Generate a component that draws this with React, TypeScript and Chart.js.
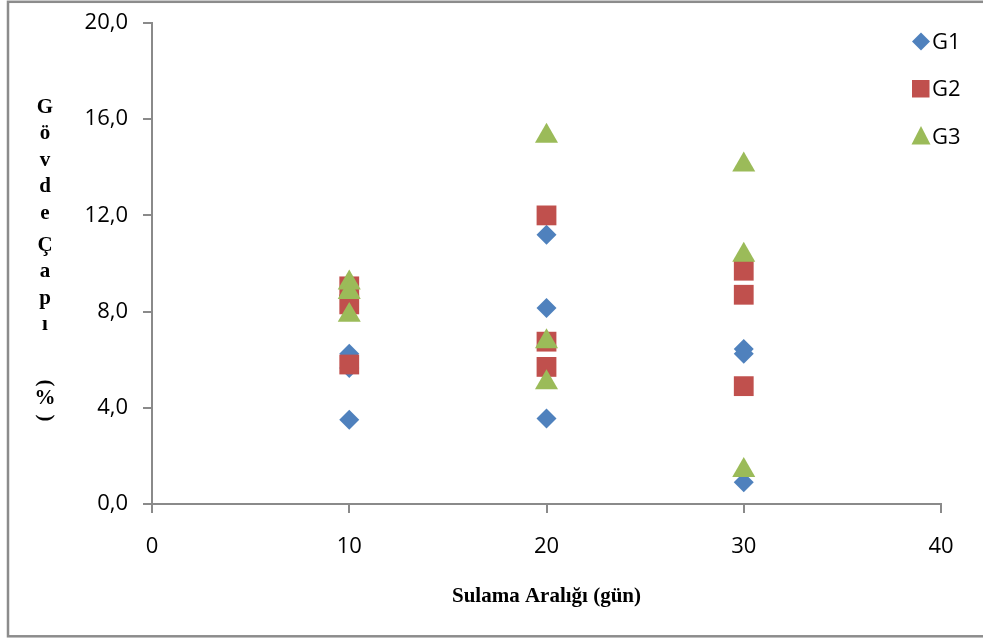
import React, { useEffect, useRef } from "react";
import { Chart, registerables } from "chart.js";

Chart.register(...registerables);

// ---- data ----
const X_VALUES = [10, 10, 10, 20, 20, 20, 30, 30, 30];
const G1_VALUES = [6.25, 5.65, 3.5, 11.2, 8.15, 3.55, 6.45, 6.25, 0.9];
const G2_VALUES = [9.05, 8.3, 5.8, 12.0, 6.75, 5.7, 9.7, 8.7, 4.9];
const G3_VALUES = [9.2, 8.8, 7.85, 15.3, 6.75, 5.05, 14.1, 10.35, 1.4];
const SERIES_NAMES = ["G1", "G2", "G3"];
const X_TICKS = [0, 10, 20, 30, 40];
const Y_TICKS = [0, 4, 8, 12, 16, 20];
const X_TITLE = "Sulama Aralığı (gün)";
const Y_TITLE = "Gövde Çapı (%)";

const COLORS = ["#4F81BD", "#C0504D", "#9BBB59"];
const STYLES = ["rectRot", "rect", "triangle"];
const RADII = [10, 14, 13.3];
const TICK_FONT = { family: "'Open Sans', sans-serif", size: 22 };
const AXIS_COLOR = "#8a8a8a";

const toPoints = (ys: number[]) => ys.map((y, i) => ({ x: X_VALUES[i], y }));

const decorPlugin = {
  id: "decor",
  beforeDraw(chart: any) {
    const ctx = chart.ctx;
    ctx.save();
    ctx.fillStyle = "#ffffff";
    ctx.fillRect(0, 0, chart.width, chart.height);
    ctx.restore();
  },
  afterDraw(chart: any) {
    const ctx = chart.ctx;
    const area = chart.chartArea;
    ctx.save();
    // outer frame
    ctx.strokeStyle = "#8c8c8c";
    ctx.lineWidth = 2.5;
    ctx.strokeRect(8, 1.8, chart.width + 20, 634.5);

    // x title
    ctx.fillStyle = "#000000";
    ctx.font = "bold 21px 'Liberation Serif', 'Times New Roman', serif";
    ctx.textAlign = "center";
    ctx.textBaseline = "middle";
    ctx.fillText(X_TITLE, (area.left + area.right) / 2, 597);

    // y title, stacked letters
    const ys = [108, 134, 161, 187, 214, 246, 272, 299, 325, 383, 399, 418];
    ctx.font = "bold 21px 'Liberation Serif', 'Times New Roman', serif";
    let k = 0;
    for (const ch of Array.from(Y_TITLE)) {
      if (ch === " ") continue;
      const y = ys[k++];
      if (ch === "(" || ch === ")") {
        ctx.save();
        ctx.translate(45, y);
        ctx.rotate(Math.PI / 2);
        ctx.fillText(ch, 0, 0);
        ctx.restore();
      } else {
        ctx.fillText(ch, 45, y);
      }
    }

    // legend
    const legendY = [41.5, 89, 137];
    ctx.font = `${TICK_FONT.size}px ${TICK_FONT.family}`;
    ctx.textAlign = "left";
    ctx.textBaseline = "middle";
    SERIES_NAMES.forEach((name, i) => {
      const cx = 921;
      const cy = legendY[i];
      ctx.fillStyle = COLORS[i];
      ctx.beginPath();
      if (i === 0) {
        ctx.moveTo(cx - 9, cy);
        ctx.lineTo(cx, cy - 9);
        ctx.lineTo(cx + 9, cy);
        ctx.lineTo(cx, cy + 9);
      } else if (i === 1) {
        ctx.rect(cx - 9, cy - 9, 17.5, 17.5);
      } else {
        ctx.moveTo(cx, cy - 11);
        ctx.lineTo(cx + 9.5, cy + 7.5);
        ctx.lineTo(cx - 9.5, cy + 7.5);
      }
      ctx.closePath();
      ctx.fill();
      ctx.fillStyle = "#000000";
      ctx.fillText(name, 932, cy + 1);
    });
    ctx.restore();
  },
};

const zeroPadding = (scale: any) => {
  scale.paddingTop = 0;
  scale.paddingBottom = 0;
  scale.paddingLeft = 0;
  scale.paddingRight = 0;
};

export default function App() {
  const canvasRef = useRef<HTMLCanvasElement | null>(null);

  useEffect(() => {
    if (!canvasRef.current) return;
    const datasets = [G1_VALUES, G2_VALUES, G3_VALUES].map((vals, i) => ({
      label: SERIES_NAMES[i],
      data: toPoints(vals),
      pointStyle: STYLES[i],
      pointRadius: RADII[i],
      pointBackgroundColor: COLORS[i],
      pointBorderColor: COLORS[i],
      pointBorderWidth: 0,
      backgroundColor: COLORS[i],
      borderColor: COLORS[i],
      showLine: false,
      order: 2 - i,
    }));

    const chart = new Chart(canvasRef.current, {
      type: "scatter",
      data: { datasets } as any,
      plugins: [decorPlugin],
      options: {
        responsive: false,
        animation: false,
        events: [],
        layout: { padding: { left: 0, right: 42, top: 23, bottom: 0 } },
        plugins: {
          legend: { display: false },
          tooltip: { enabled: false },
          title: { display: false },
        },
        scales: {
          x: {
            type: "linear",
            min: 0,
            max: 40,
            afterFit(scale: any) {
              scale.height = 135;
              zeroPadding(scale);
            },
            afterBuildTicks(scale: any) {
              scale.ticks = X_TICKS.map((v) => ({ value: v }));
            },
            ticks: {
              font: TICK_FONT,
              color: "#000000",
              padding: 21,
              maxRotation: 0,
              callback: (v: any) => String(v),
            },
            grid: {
              display: true,
              drawOnChartArea: false,
              drawTicks: true,
              tickLength: 9,
              color: AXIS_COLOR,
              lineWidth: 2,
            },
            border: { display: true, color: AXIS_COLOR, width: 2 },
          },
          y: {
            type: "linear",
            min: 0,
            max: 20,
            afterFit(scale: any) {
              scale.width = 152;
              zeroPadding(scale);
            },
            afterBuildTicks(scale: any) {
              scale.ticks = Y_TICKS.map((v) => ({ value: v }));
            },
            ticks: {
              font: TICK_FONT,
              color: "#000000",
              padding: 15,
              callback: (v: any) => Number(v).toFixed(1).replace(".", ","),
            },
            grid: {
              display: true,
              drawOnChartArea: false,
              drawTicks: true,
              tickLength: 9,
              color: AXIS_COLOR,
              lineWidth: 2,
            },
            border: { display: true, color: AXIS_COLOR, width: 2 },
          },
        },
      } as any,
    });
    return () => chart.destroy();
  }, []);

  return (
    <div style={{ position: "absolute", left: 0, top: 0, width: 983, height: 639, background: "#fff" }}>
      <canvas ref={canvasRef} width={983} height={639} style={{ display: "block", width: 983, height: 639 }} />
    </div>
  );
}
